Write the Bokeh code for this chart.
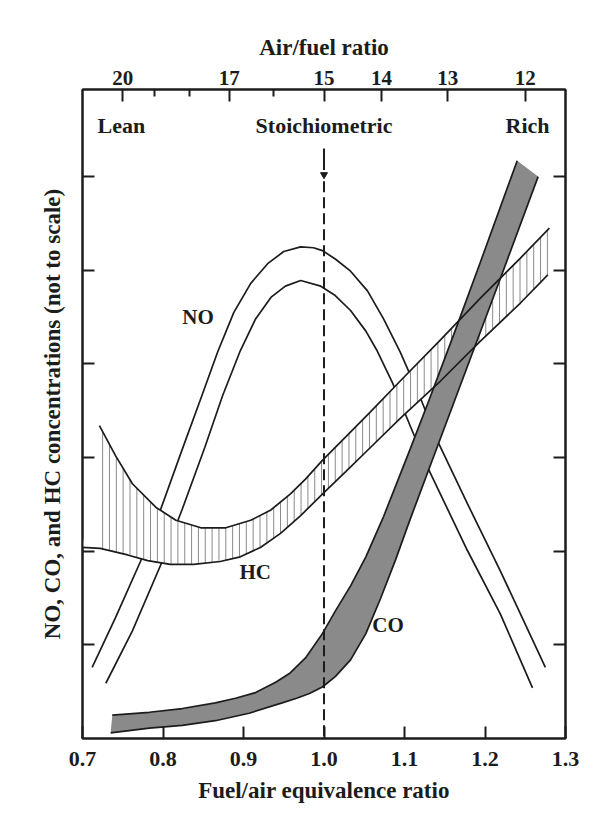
import numpy as np
from bokeh.plotting import figure
from bokeh.models import Range1d, LinearAxis, FixedTicker, CustomJSTickFormatter
from bokeh.core.properties import value
from bokeh.embed import file_html
from bokeh.resources import INLINE

# ---------------- data ----------------
PHI_TICKS = [0.7, 0.8, 0.9, 1.0, 1.1, 1.2, 1.3]
Y_TICKS = [1, 2, 3, 4, 5, 6]
STOICH_AF = 15
AF_MAJOR = [20, 17, 15, 14, 13, 12]
AF_MINOR = [19, 18, 16]

NO_UPPER_X = [0.712, 0.741, 0.772, 0.796, 0.824, 0.847, 0.868, 0.888, 0.909, 0.930, 0.950, 0.971,
              0.987, 0.998, 1.014, 1.033, 1.054, 1.074, 1.095, 1.120, 1.142, 1.178, 1.219, 1.275]
NO_UPPER_Y = [0.76, 1.29, 1.89, 2.42, 3.09, 3.63, 4.13, 4.55, 4.86, 5.07, 5.20, 5.25,
              5.24, 5.21, 5.12, 4.99, 4.78, 4.48, 4.12, 3.63, 3.16, 2.51, 1.79, 0.76]

NO_LOWER_X = [0.729, 0.762, 0.797, 0.824, 0.852, 0.874, 0.896, 0.915, 0.934, 0.952, 0.971, 0.996,
              1.014, 1.033, 1.052, 1.066, 1.085, 1.107, 1.129, 1.178, 1.219, 1.259]
NO_LOWER_Y = [0.59, 1.15, 1.85, 2.45, 3.11, 3.66, 4.14, 4.48, 4.71, 4.83, 4.89, 4.83,
              4.73, 4.57, 4.35, 4.14, 3.80, 3.34, 2.89, 2.01, 1.33, 0.54]

HC_UPPER_X = [0.721, 0.741, 0.762, 0.791, 0.816, 0.847, 0.878, 0.909, 0.934, 0.958, 0.977, 0.998,
              1.027, 1.058, 1.095, 1.145, 1.194, 1.244, 1.280]
HC_UPPER_Y = [3.34, 3.02, 2.72, 2.47, 2.33, 2.25, 2.25, 2.33, 2.44, 2.61, 2.77, 2.97,
              3.22, 3.49, 3.82, 4.26, 4.70, 5.13, 5.45]

HC_LOWER_X = [0.700, 0.722, 0.756, 0.781, 0.809, 0.838, 0.871, 0.896, 0.921, 0.946, 0.971, 0.998,
              1.027, 1.058, 1.095, 1.145, 1.194, 1.244, 1.278]
HC_LOWER_Y = [2.04, 2.03, 1.96, 1.90, 1.86, 1.86, 1.89, 1.94, 2.04, 2.19, 2.38, 2.61,
              2.85, 3.11, 3.42, 3.82, 4.24, 4.65, 4.95]

CO_UPPER_X = [0.737, 0.783, 0.824, 0.865, 0.890, 0.915, 0.940, 0.958, 0.977, 0.998, 1.014, 1.033,
              1.052, 1.074, 1.107, 1.129, 1.161, 1.194, 1.240]
CO_UPPER_Y = [0.25, 0.28, 0.32, 0.38, 0.43, 0.49, 0.60, 0.70, 0.86, 1.12, 1.36, 1.63,
              1.94, 2.37, 3.09, 3.58, 4.31, 5.08, 6.17]

CO_LOWER_X = [0.735, 0.783, 0.824, 0.865, 0.907, 0.948, 0.966, 0.982, 0.998, 1.014, 1.033, 1.052,
              1.070, 1.089, 1.107, 1.141, 1.178, 1.219, 1.266]
CO_LOWER_Y = [0.06, 0.11, 0.14, 0.19, 0.27, 0.38, 0.43, 0.48, 0.55, 0.66, 0.84, 1.12,
              1.49, 1.91, 2.34, 3.12, 3.97, 4.91, 6.00]

STOICH_PHI = 1.0

# ---------------- styling / positions ----------------
FONT = "Liberation Serif"
INK = "#1c1c1c"
CO_FILL = "#8a8a8a"
HATCH_COLOR = "#8a8a8a"
HATCH_STEP = 0.0085
LW = 1.7

p = figure(width=594, height=821,
           x_range=Range1d(0.7, 1.3), y_range=Range1d(0, 6.93),
           output_backend="svg", toolbar_location=None,
           x_axis_location=None, y_axis_location=None,
           min_border_left=82, min_border_right=29, min_border_top=89, min_border_bottom=83)
p.grid.visible = False
p.outline_line_color = INK
p.outline_line_width = 2
p.background_fill_color = "white"
p.border_fill_color = "white"


def style_axis(ax, label_size="22px"):
    ax.axis_line_color = INK
    ax.axis_line_width = 2
    ax.major_tick_line_color = INK
    ax.major_tick_line_width = 2
    ax.major_tick_in = 12
    ax.major_tick_out = 0
    ax.minor_tick_line_color = INK
    ax.minor_tick_line_width = 2
    ax.minor_tick_in = 0
    ax.minor_tick_out = 0
    ax.major_label_text_font = FONT
    ax.major_label_text_font_style = "bold"
    ax.major_label_text_font_size = label_size
    ax.major_label_text_color = INK
    ax.axis_label_text_font = FONT
    ax.axis_label_text_font_style = "bold"
    ax.axis_label_text_font_size = "23px"
    ax.axis_label_text_color = INK


xb = LinearAxis(ticker=FixedTicker(ticks=PHI_TICKS), axis_label="Fuel/air equivalence ratio")
style_axis(xb)
xb.major_label_standoff = 13
xb.axis_label_standoff = 9
xb.major_label_overrides = {t: f"{t:.1f}" for t in PHI_TICKS}
p.add_layout(xb, "below")

xt = LinearAxis(ticker=FixedTicker(ticks=[STOICH_AF / a for a in AF_MAJOR],
                                   minor_ticks=[STOICH_AF / a for a in AF_MINOR]),
                formatter=CustomJSTickFormatter(code=f"return Math.round({STOICH_AF} / tick).toString();"),
                axis_label="Air/fuel ratio")
style_axis(xt, label_size="21px")
xt.minor_tick_in = 7
xt.major_label_standoff = 5
xt.axis_label_standoff = 8
p.add_layout(xt, "above")

yl = LinearAxis(ticker=FixedTicker(ticks=Y_TICKS),
                axis_label="NO, CO, and HC concentrations (not to scale)")
style_axis(yl, label_size="0px")
yl.major_label_text_color = None
yl.major_label_standoff = 0
yl.axis_label_standoff = 18
yl.axis_label_text_font_size = "23px"
p.add_layout(yl, "left")

yr = LinearAxis(ticker=FixedTicker(ticks=Y_TICKS))
style_axis(yr, label_size="0px")
yr.major_label_text_color = None
yr.major_label_standoff = 0
p.add_layout(yr, "right")

# NO band (two plain curves)
p.line(NO_UPPER_X, NO_UPPER_Y, line_color=INK, line_width=LW)
p.line(NO_LOWER_X, NO_LOWER_Y, line_color=INK, line_width=LW)

# HC band: white fill with vertical hatching
p.patch(HC_UPPER_X + HC_LOWER_X[::-1], HC_UPPER_Y + HC_LOWER_Y[::-1],
        fill_color="white", line_color=None)
hx0 = max(HC_UPPER_X[0], HC_LOWER_X[0]) + 0.004
hx1 = min(HC_UPPER_X[-1], HC_LOWER_X[-1])
hx = np.arange(hx0, hx1, HATCH_STEP)
h_lo = np.interp(hx, HC_LOWER_X, HC_LOWER_Y)
h_hi = np.interp(hx, HC_UPPER_X, HC_UPPER_Y)
p.segment(hx, h_lo, hx, h_hi, line_color=HATCH_COLOR, line_width=1)

# CO band: grey fill
p.patch(CO_UPPER_X + CO_LOWER_X[::-1], CO_UPPER_Y + CO_LOWER_Y[::-1],
        fill_color=CO_FILL, line_color=None)

# edges
p.line(HC_UPPER_X, HC_UPPER_Y, line_color=INK, line_width=LW)
p.line(HC_LOWER_X, HC_LOWER_Y, line_color=INK, line_width=LW)
p.line(CO_UPPER_X, CO_UPPER_Y, line_color=INK, line_width=LW)
p.line(CO_LOWER_X, CO_LOWER_Y, line_color=INK, line_width=LW)

# stoichiometric marker line
p.line([STOICH_PHI, STOICH_PHI], [6.07, 6.30], line_color=INK, line_width=2)
p.line([STOICH_PHI, STOICH_PHI], [5.95, 0.0], line_color=INK, line_width=2, line_dash="11 5")
p.scatter([STOICH_PHI], [6.02], marker="inverted_triangle", size=7,
          fill_color=INK, line_color=INK)

# texts
txt = dict(text_font=value(FONT), text_font_style="bold", text_color=INK,
           text_baseline="alphabetic")
p.text(x=[0.7186, 1.2255], y=[6.55, 6.55], text=["Lean", "Rich"],
       text_align="left", text_font_size="22px", **txt)
p.text(x=[STOICH_PHI], y=[6.55], text=["Stoichiometric"],
       text_align="center", text_font_size="22px", **txt)
p.text(x=[0.824, 0.895, 1.060], y=[4.50, 1.78, 1.21], text=["NO", "HC", "CO"],
       text_align="left", text_font_size="21px", **txt)

open("out.html", "w").write(file_html(p, INLINE))
